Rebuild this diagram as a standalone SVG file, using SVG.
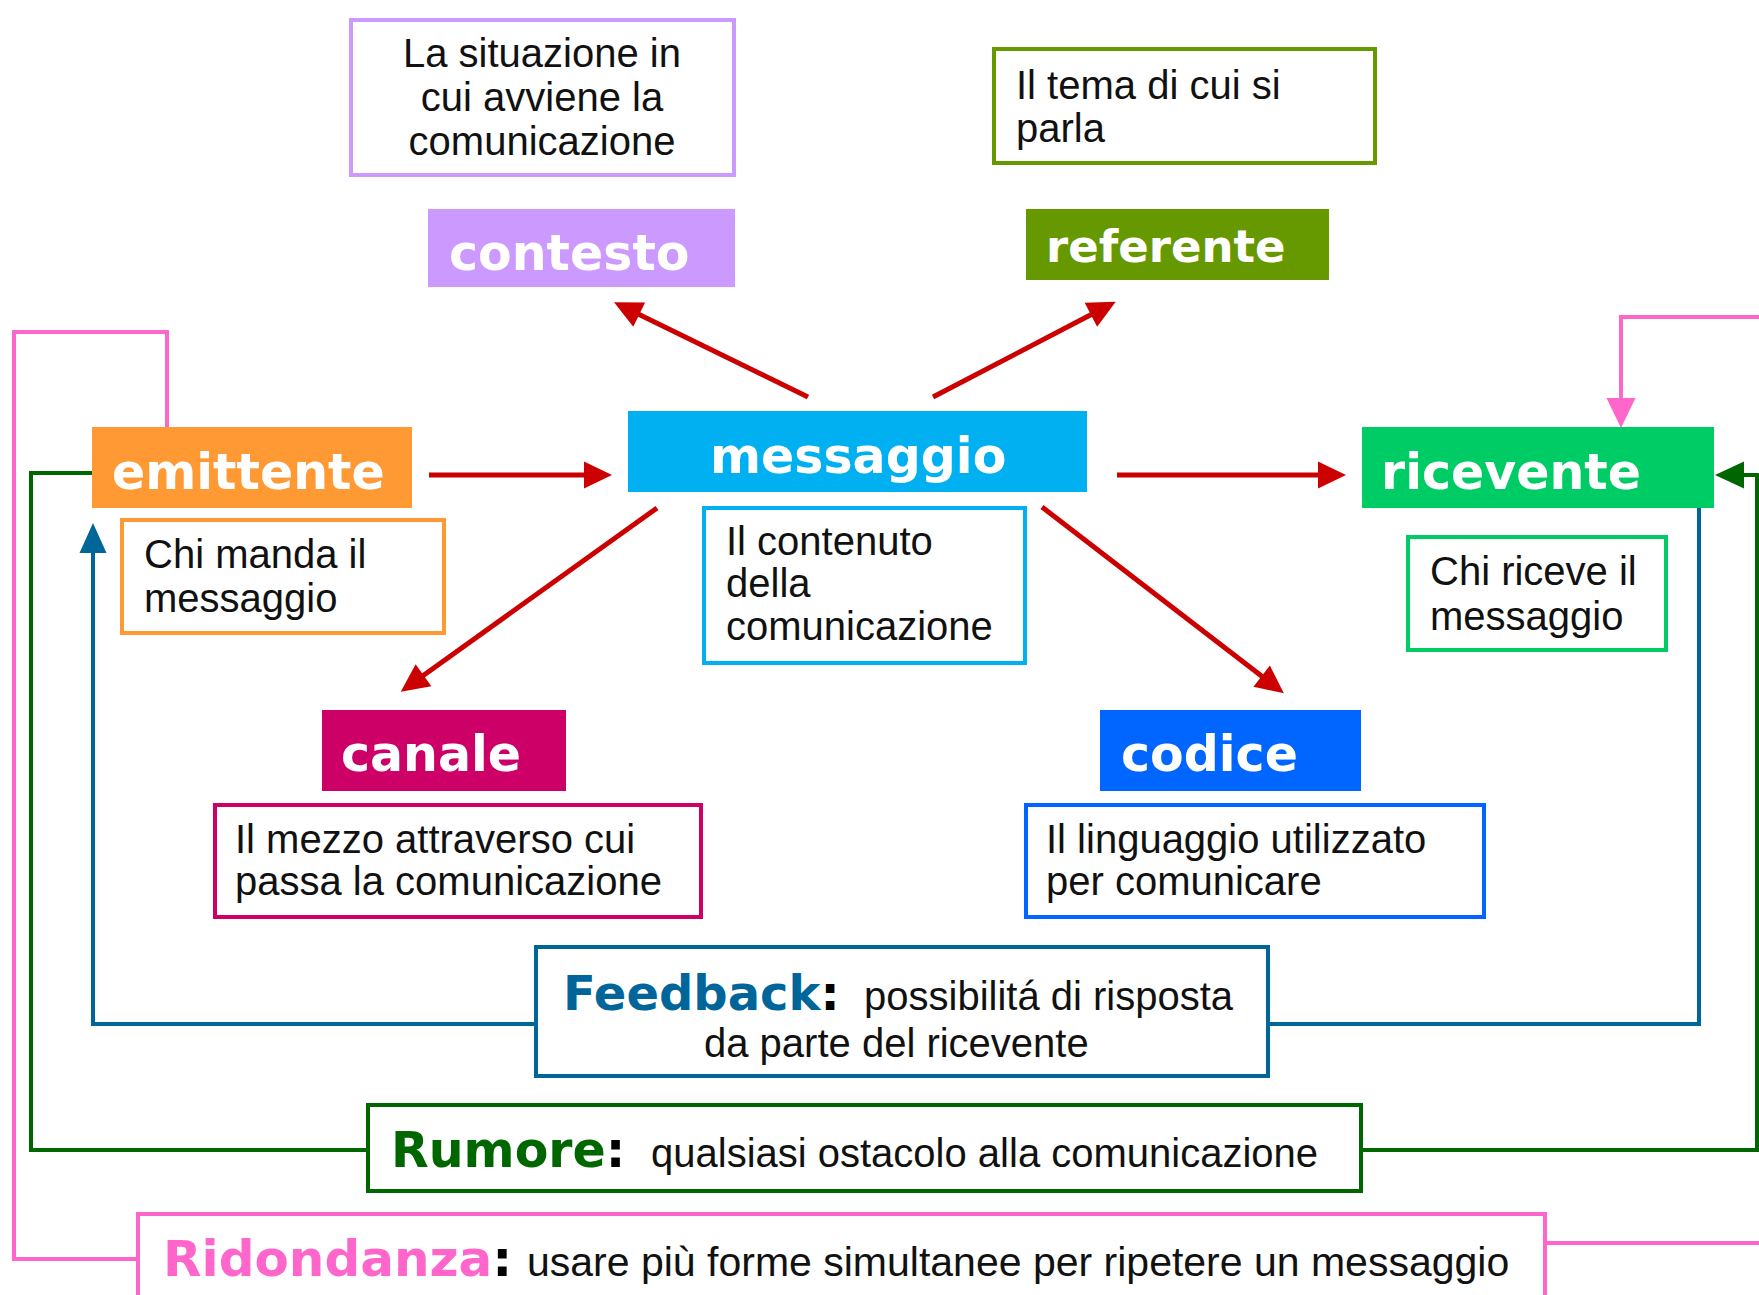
<svg xmlns="http://www.w3.org/2000/svg" width="1759" height="1295" viewBox="0 0 1759 1295">
<style>
.title { font-family: "DejaVu Sans", Verdana, sans-serif; font-weight: bold; fill: #ffffff; font-size: 49px; }
.desc { font-family: "Liberation Sans", Arial, sans-serif; font-size: 40px; fill: #111111; }
.lbl { font-family: "DejaVu Sans", Verdana, sans-serif; font-weight: bold; font-size: 49px; }
.colon { fill: #000000; }
.box { fill: #ffffff; stroke-width: 4; }
.red { stroke: #CC0000; stroke-width: 5; fill: none; marker-end: url(#arRed); }
.link { fill: none; stroke-width: 4; stroke-linejoin: miter; }
</style>
<defs>
<marker id="arRed" markerUnits="userSpaceOnUse" markerWidth="32" markerHeight="32" refX="8" refY="13.5" orient="auto" overflow="visible">
<path d="M0,0 L28,13.5 L0,27 Z" fill="#CC0000"/>
</marker>
<marker id="arPink" markerUnits="userSpaceOnUse" markerWidth="32" markerHeight="32" refX="8" refY="14.5" orient="auto" overflow="visible">
<path d="M0,0 L30,14.5 L0,29 Z" fill="#FF66CC"/>
</marker>
<marker id="arGreen" markerUnits="userSpaceOnUse" markerWidth="32" markerHeight="32" refX="8" refY="13.5" orient="auto" overflow="visible">
<path d="M0,0 L29,13.5 L0,27 Z" fill="#006600"/>
</marker>
<marker id="arBlue" markerUnits="userSpaceOnUse" markerWidth="32" markerHeight="32" refX="8" refY="13.5" orient="auto" overflow="visible">
<path d="M0,0 L30,13.5 L0,27 Z" fill="#006699"/>
</marker>
</defs>
<rect x="0" y="0" width="1759" height="1295" fill="#ffffff"/>

<g id="connectors">
<line class="red" x1="429" y1="475" x2="592" y2="475"/>
<line class="red" x1="1117" y1="475" x2="1326" y2="475"/>
<line class="red" x1="808" y1="397" x2="632" y2="311"/>
<line class="red" x1="933" y1="397" x2="1098" y2="311"/>
<line class="red" x1="657" y1="508" x2="417" y2="680"/>
<line class="red" x1="1042" y1="507" x2="1268" y2="681"/>
<path class="link" stroke="#FF66CC" stroke-width="3" d="M136,1259 H14 V332 H167 V427"/>
<path class="link" stroke="#FF66CC" stroke-width="4" marker-end="url(#arPink)" d="M1546,1243 H1775 V317 H1621 V406"/>
<path class="link" stroke="#006600" stroke-width="3" d="M366,1150 H31 V473 H92"/>
<path class="link" stroke="#006600" stroke-width="3" marker-end="url(#arGreen)" d="M1362,1150 H1757 V475 H1736"/>
<path class="link" stroke="#006699" stroke-width="4" marker-end="url(#arBlue)" d="M534,1024 H93 V545"/>
<path class="link" stroke="#006699" stroke-width="4" d="M1269,1024 H1699 V508"/>
</g>

<g id="contesto-desc">
<rect class="box" stroke="#CC99FF" x="351" y="20" width="383" height="155"/>
<text class="desc" text-anchor="middle" x="542" y="67">La situazione in</text>
<text class="desc" text-anchor="middle" x="542" y="111">cui avviene la</text>
<text class="desc" text-anchor="middle" x="542" y="155">comunicazione</text>
</g>
<g id="contesto">
<rect x="428" y="209" width="307" height="78" fill="#CC99FF"/>
<text class="title" x="449" y="270">contesto</text>
</g>

<g id="referente-desc">
<rect class="box" stroke="#669900" x="994" y="49" width="381" height="114"/>
<text class="desc" x="1016" y="99">Il tema di cui si</text>
<text class="desc" x="1016" y="142">parla</text>
</g>
<g id="referente">
<rect x="1026" y="209" width="303" height="71" fill="#669900"/>
<text class="title" x="1046" y="262" style="font-size:45px">referente</text>
</g>

<g id="emittente">
<rect x="92" y="427" width="320" height="81" fill="#FF9933"/>
<text class="title" x="112" y="489">emittente</text>
</g>
<g id="emittente-desc">
<rect class="box" stroke="#FF9933" x="122" y="520" width="322" height="113"/>
<text class="desc" x="144" y="568">Chi manda il</text>
<text class="desc" x="144" y="612">messaggio</text>
</g>

<g id="messaggio">
<rect x="628" y="411" width="459" height="81" fill="#00B0F0"/>
<text class="title" x="710" y="473">messaggio</text>
</g>
<g id="messaggio-desc">
<rect class="box" stroke="#00B0F0" x="704" y="508" width="321" height="155"/>
<text class="desc" x="726" y="555">Il contenuto</text>
<text class="desc" x="726" y="597">della</text>
<text class="desc" x="726" y="640">comunicazione</text>
</g>

<g id="ricevente">
<rect x="1362" y="427" width="352" height="81" fill="#00CC66"/>
<text class="title" x="1381" y="489">ricevente</text>
</g>
<g id="ricevente-desc">
<rect class="box" stroke="#00CC66" x="1408" y="537" width="258" height="113"/>
<text class="desc" x="1430" y="585">Chi riceve il</text>
<text class="desc" x="1430" y="630">messaggio</text>
</g>

<g id="canale">
<rect x="322" y="710" width="244" height="81" fill="#CC0066"/>
<text class="title" x="341" y="771">canale</text>
</g>
<g id="canale-desc">
<rect class="box" stroke="#CC0066" x="215" y="805" width="486" height="112"/>
<text class="desc" x="235" y="853">Il mezzo attraverso cui</text>
<text class="desc" x="235" y="895">passa la comunicazione</text>
</g>

<g id="codice">
<rect x="1100" y="710" width="261" height="81" fill="#0066FF"/>
<text class="title" x="1121" y="771">codice</text>
</g>
<g id="codice-desc">
<rect class="box" stroke="#0066FF" x="1026" y="805" width="458" height="112"/>
<text class="desc" x="1046" y="853">Il linguaggio utilizzato</text>
<text class="desc" x="1046" y="895">per comunicare</text>
</g>

<g id="feedback">
<rect class="box" stroke="#006699" x="536" y="947" width="732" height="129"/>
<text x="563" y="1010"><tspan class="lbl" fill="#006699" style="font-size:48px">Feedback</tspan><tspan class="lbl colon" style="font-size:48px">:</tspan></text>
<text class="desc" x="864" y="1010">possibilitá di risposta</text>
<text class="desc" x="704" y="1057">da parte del ricevente</text>
</g>

<g id="rumore">
<rect class="box" stroke="#006600" x="368" y="1105" width="993" height="86"/>
<text x="391" y="1167"><tspan class="lbl" fill="#006600">Rumore</tspan><tspan class="lbl colon">:</tspan></text>
<text class="desc" x="651" y="1167">qualsiasi ostacolo alla comunicazione</text>
</g>

<g id="ridondanza">
<rect class="box" stroke="#FF66CC" x="138" y="1214" width="1407" height="120"/>
<text x="163" y="1276"><tspan class="lbl" fill="#FF66CC" style="font-size:50px">Ridondanza</tspan><tspan class="lbl colon" style="font-size:50px">:</tspan></text>
<text class="desc" x="527" y="1276" style="font-size:41px">usare più forme simultanee per ripetere un messaggio</text>
</g>
</svg>
